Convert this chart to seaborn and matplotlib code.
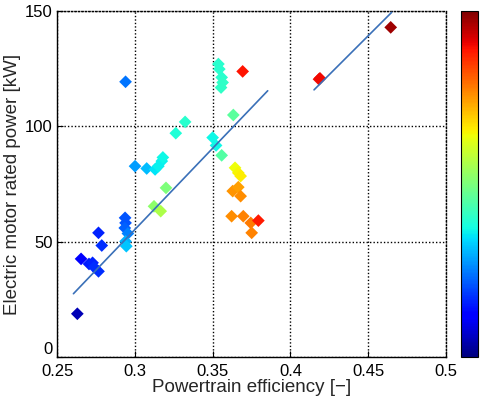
import matplotlib
matplotlib.use("Agg")
import matplotlib.pyplot as plt
import numpy as np
import pandas as pd
import seaborn as sns

sns.set_style("white")
plt.rcParams["font.family"] = ["Liberation Sans", "DejaVu Sans"]

# Powertrain efficiency [-]
efficiency = [
    0.2630, 0.2654, 0.2705, 0.2728, 0.2738, 0.2766, 0.2766, 0.2787,
    0.2937, 0.2940, 0.2935, 0.2955, 0.2940, 0.2945, 0.2940,
    0.3001, 0.3076, 0.3130, 0.3151, 0.3173, 0.3180,
    0.3200, 0.3123, 0.3166, 0.3263, 0.3323,
    0.3500, 0.3522, 0.3558, 0.3633,
    0.3537, 0.3543, 0.3558, 0.3564, 0.3554, 0.3693,
    0.3644, 0.3665, 0.3680, 0.3629, 0.3665, 0.3680,
    0.3622, 0.3697, 0.3745, 0.3751, 0.3794,
    0.4184, 0.4190, 0.4645,
]
# Electric motor rated power [kW]
power = [
    18.7, 42.5, 40.3, 40.8, 38.9, 37.1, 53.8, 48.3,
    60.3, 58.1, 55.9, 53.5, 50.1, 48.0, 119.3,
    82.7, 81.7, 81.3, 82.7, 84.9, 86.5,
    73.3, 65.3, 63.2, 97.0, 101.9,
    95.1, 91.7, 87.4, 104.9,
    127.0, 124.8, 121.2, 119.0, 116.8, 123.8,
    82.0, 79.8, 78.4, 71.9, 73.6, 69.7,
    61.0, 61.0, 58.1, 53.8, 59.1,
    120.4, 120.8, 142.9,
]
# colour variable
colour_value = [
    0.05, 0.12, 0.15, 0.16, 0.17, 0.17, 0.16, 0.17,
    0.21, 0.21, 0.22, 0.25, 0.30, 0.32, 0.24,
    0.28, 0.31, 0.35, 0.36, 0.36, 0.37,
    0.50, 0.52, 0.56, 0.39, 0.40,
    0.37, 0.37, 0.45, 0.46,
    0.40, 0.40, 0.40, 0.41, 0.41, 0.89,
    0.64, 0.65, 0.66, 0.75, 0.74, 0.76,
    0.76, 0.77, 0.78, 0.77, 0.88,
    0.90, 0.90, 0.97,
]

# linear trend lines (endpoints)
fit1_x = [0.2605, 0.3854]
fit1_y = [27.4, 115.4]
fit2_x = [0.4152, 0.4651]
fit2_y = [115.8, 149.4]

x_ticks = [0.25, 0.3, 0.35, 0.4, 0.45, 0.5]
x_tick_labels = ["0.25", "0.3", "0.35", "0.4", "0.45", "0.5"]
y_ticks = [0, 50, 100, 150]
y_tick_labels = ["0", "50", "100", "150"]

df = pd.DataFrame({"eff": efficiency, "pow": power, "c": colour_value})

fig = plt.figure(figsize=(4.8, 4.01), dpi=100)
ax = fig.add_axes([0.119, 0.110, 0.810, 0.8626])
cax = fig.add_axes([0.960, 0.110, 0.035, 0.8626])

dot = (0, (1, 1.5))
ax.set_xlim(0.25, 0.5)
ax.set_ylim(0, 150)
ax.set_xticks(x_ticks)
ax.set_xticklabels(x_tick_labels)
ax.set_yticks(y_ticks)
ax.set_yticklabels(y_tick_labels)
ax.grid(True, color="black", linestyle=dot, linewidth=1.0)
ax.set_axisbelow(True)

cmap = plt.get_cmap("jet")
norm = matplotlib.colors.Normalize(0, 1)
sns.scatterplot(data=df, x="eff", y="pow", hue="c", palette=cmap,
                hue_norm=norm, marker="D", s=42, edgecolor="none",
                legend=False, ax=ax, zorder=3)
sns.lineplot(x=fit1_x, y=fit1_y, color="#3a70b8", linewidth=1.2, ax=ax, zorder=4)
sns.lineplot(x=fit2_x, y=fit2_y, color="#3a70b8", linewidth=1.2, ax=ax, zorder=4)

for s in ["left", "bottom"]:
    ax.spines[s].set_color("black")
    ax.spines[s].set_linewidth(1.0)
for s in ["top", "right"]:
    ax.spines[s].set_color("black")
    ax.spines[s].set_linestyle(dot)
    ax.spines[s].set_linewidth(1.0)

ax.tick_params(axis="both", direction="in", length=4, width=0.8, colors="black",
               labelsize=12, left=True, bottom=True)
ax.tick_params(axis="x", pad=5)
ax.tick_params(axis="y", pad=3)
# lift the "0" label so it sits above the first x tick label
ax.get_yticklabels()[0].set_verticalalignment("bottom")
ax.set_xlabel("Powertrain efficiency [\u2212]", fontsize=13.5, labelpad=0)
ax.set_ylabel("Electric motor rated power [kW]", fontsize=13.5, labelpad=3)

sm = matplotlib.cm.ScalarMappable(cmap=cmap, norm=matplotlib.colors.Normalize(0.5, 8.3))
cb = fig.colorbar(sm, cax=cax, ticks=[1, 2, 3, 4, 5, 6, 7])
cb.outline.set_edgecolor("black")
cb.outline.set_linewidth(0.8)
cax.tick_params(direction="in", length=3, width=0.8, left=True, right=True,
                labelleft=False, labelright=False)

fig.savefig("out.png", dpi=100)
